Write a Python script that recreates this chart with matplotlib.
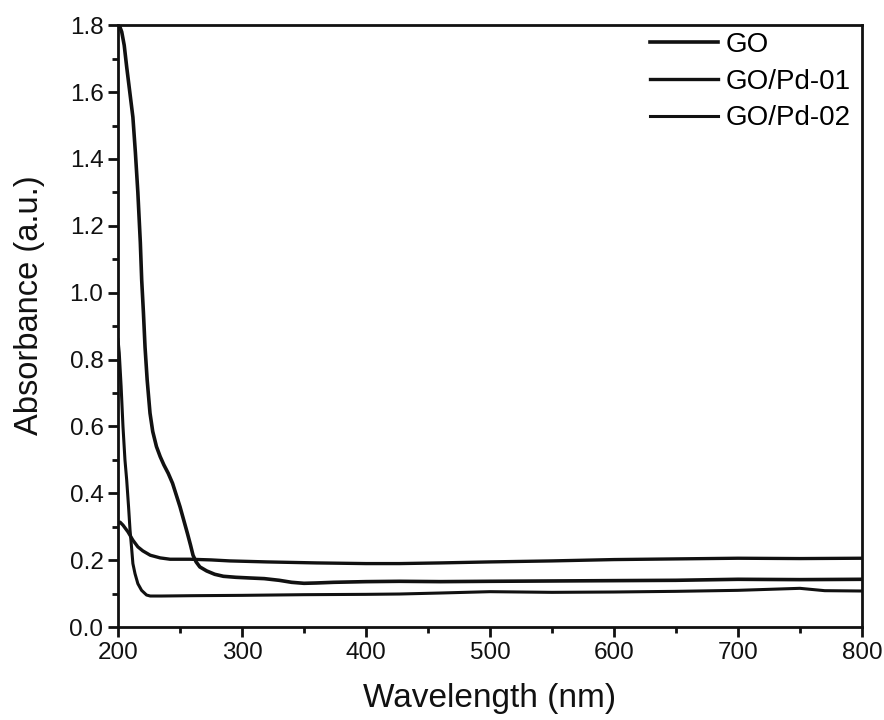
import matplotlib
matplotlib.use('Agg')
import matplotlib.pyplot as plt
from matplotlib.ticker import MultipleLocator

plt.rcParams['font.family'] = ['Liberation Sans', 'DejaVu Sans']

# GO: strong peak near 200 nm with shoulder at ~240 nm
go_x = [200, 201.5, 203, 205, 207, 209.5, 212, 214, 216, 218, 219.1, 220.5,
        221.8, 223.5, 225.8, 228, 231, 234, 237, 240.5, 244, 247, 250, 253,
        256, 258.5, 260.5, 263, 266, 271.5, 278, 285, 295, 306, 318, 330,
        340, 350, 360, 374, 400, 427, 460, 500, 550, 600, 650, 700, 750, 800]
go_y = [1.80, 1.795, 1.78, 1.74, 1.675, 1.60, 1.525, 1.42, 1.30, 1.15, 1.038,
        0.94, 0.837, 0.74, 0.64, 0.585, 0.54, 0.51, 0.485, 0.46, 0.43, 0.395,
        0.36, 0.32, 0.28, 0.245, 0.215, 0.195, 0.18, 0.168, 0.158, 0.152,
        0.149, 0.147, 0.145, 0.14, 0.134, 0.131, 0.132, 0.134, 0.136, 0.137,
        0.136, 0.137, 0.138, 0.139, 0.14, 0.143, 0.142, 0.143]

# GO/Pd-01
pd1_x = [200, 201.6, 204, 208, 212, 216, 220, 226, 234, 242, 250, 258, 275,
         290, 320, 360, 400, 427, 460, 500, 550, 600, 650, 700, 750, 800]
pd1_y = [0.31, 0.314, 0.305, 0.285, 0.26, 0.24, 0.228, 0.215, 0.207, 0.203,
         0.203, 0.203, 0.201, 0.198, 0.195, 0.192, 0.19, 0.19, 0.192, 0.195,
         0.198, 0.202, 0.204, 0.206, 0.205, 0.206]

# GO/Pd-02
pd2_x = [200, 201, 202.5, 204, 205.6, 207, 208.5, 209.7, 211, 212, 213.7,
         216, 219, 223, 226, 235, 260, 300, 350, 400, 427, 460, 500, 550,
         600, 650, 700, 750, 770, 800]
pd2_y = [0.86, 0.82, 0.72, 0.60, 0.50, 0.44, 0.36, 0.29, 0.235, 0.19, 0.16,
         0.13, 0.11, 0.096, 0.093, 0.093, 0.094, 0.095, 0.097, 0.098, 0.099,
         0.102, 0.106, 0.104, 0.105, 0.107, 0.11, 0.116, 0.109, 0.108]

fig = plt.figure(figsize=(8.84, 7.2), dpi=100)
ax = fig.add_axes([0.1335, 0.129, 0.8415, 0.836])

ax.plot(go_x, go_y, color='#111111', lw=2.6, label='GO')
ax.plot(pd1_x, pd1_y, color='#111111', lw=2.4, label='GO/Pd-01')
ax.plot(pd2_x, pd2_y, color='#111111', lw=2.2, label='GO/Pd-02')

ax.set_xlim(200, 800)
ax.set_ylim(0, 1.8)
ax.xaxis.set_major_locator(MultipleLocator(100))
ax.xaxis.set_minor_locator(MultipleLocator(50))
ax.yaxis.set_major_locator(MultipleLocator(0.2))
ax.yaxis.set_minor_locator(MultipleLocator(0.1))
ax.yaxis.set_major_formatter(plt.FuncFormatter(lambda v, p: '%.1f' % v))

ax.tick_params(which='both', direction='out', top=False, right=False,
               width=2, labelsize=17.5, colors='#111111', pad=3)
ax.tick_params(which='major', length=7.5)
ax.tick_params(which='minor', length=4.5)
for s in ax.spines.values():
    s.set_linewidth(2)
    s.set_color('#111111')

ax.set_xlabel('Wavelength (nm)', fontsize=24, color='#111111', labelpad=14)
ax.set_ylabel('Absorbance (a.u.)', fontsize=23.5, color='#111111')
ax.yaxis.set_label_coords(-0.098, 0.535)

ax.legend(loc='upper right', frameon=False, fontsize=20, handlelength=2.45,
          handletextpad=0.3, labelspacing=0.38, borderaxespad=0.0,
          borderpad=0.25, bbox_to_anchor=(0.995, 1.0))

fig.savefig('out.png', dpi=100)
